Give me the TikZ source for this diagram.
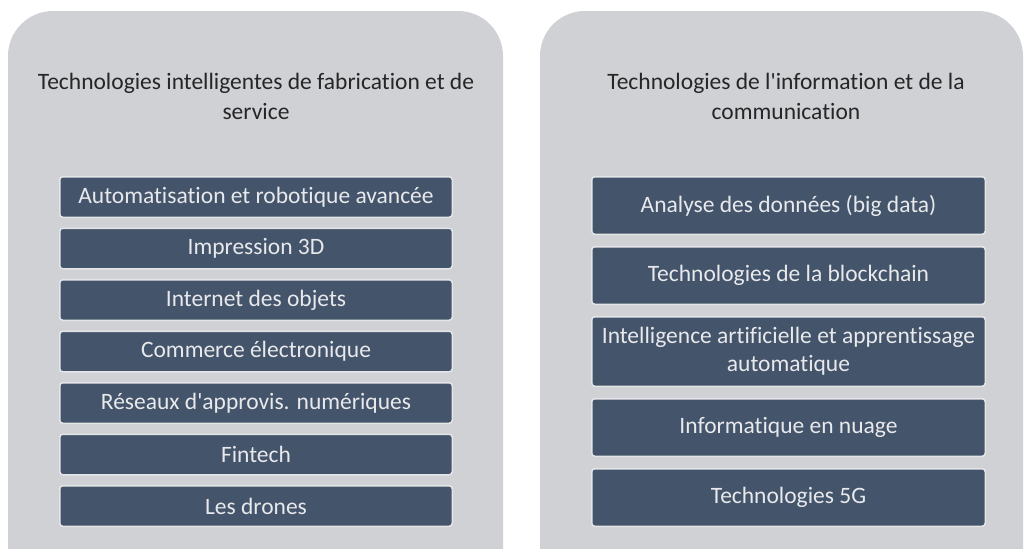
\documentclass[tikz,border=0pt]{standalone}
\usepackage{fontspec}
\setmainfont{Carlito}[Ligatures={TeXOff,CommonOff}]
\usetikzlibrary{positioning}
\definecolor{panelgray}{HTML}{D0D1D5}
\definecolor{slate}{HTML}{44546A}
\definecolor{rim}{HTML}{E4E5E8}
\definecolor{lighttxt}{HTML}{E8E9EC}
\tikzset{panel/.style={fill=panelgray,rounded corners=45pt},
  head/.style={align=center,text=black!85,font=\fontsize{23.5}{30}\selectfont},
  item/.style={draw=rim,line width=1.5pt,fill=slate,rounded corners=3pt,text=lighttxt,
    align=center,inner sep=1pt,font=\fontsize{23.5}{28}\selectfont,minimum width=392.5pt,minimum height=40.5pt},
  tall/.style={item,minimum width=393.5pt,minimum height=57.5pt}}

\begin{document}
\begin{tikzpicture}[x=1pt,y=-1pt,node distance=9.5pt]
\useasboundingbox (0,0) rectangle (1026,549);
\clip (0,0) rectangle (1026,549);
% the two grey panels
\fill[panel] (8,11) rectangle (503,600);
\fill[panel] (540,11) rectangle (1023,600);
\node[head] (hl) at (256,96) {Technologies intelligentes de fabrication et de\\service};
\node[head] (hr) at (786,96) {Technologies de l'information et de la\\communication};
% left column
\node[item] (a1) at (256,197) {Automatisation et robotique avancée};
\node[item,below=of a1] (a2) {Impression 3D};
\node[item,below=of a2] (a3) {Internet des objets};
\node[item,below=of a3] (a4) {Commerce électronique};
\node[item,below=of a4] (a5) {Réseaux d'approvis. numériques};
\node[item,below=of a5] (a6) {Fintech};
\node[item,below=of a6] (a7) {Les drones};
% right column
\begin{scope}[node distance=11pt]
\node[tall] (b1) at (788.5,205.5) {Analyse des données (big data)};
\node[tall,below=of b1] (b2) {Technologies de la blockchain};
\node[tall,below=of b2,minimum height=69.5pt] (b3) {Intelligence artificielle et apprentissage\\automatique};
\node[tall,below=of b3] (b4) {Informatique en nuage};
\node[tall,below=of b4] (b5) {Technologies 5G};
\end{scope}
\end{tikzpicture}
\end{document}
